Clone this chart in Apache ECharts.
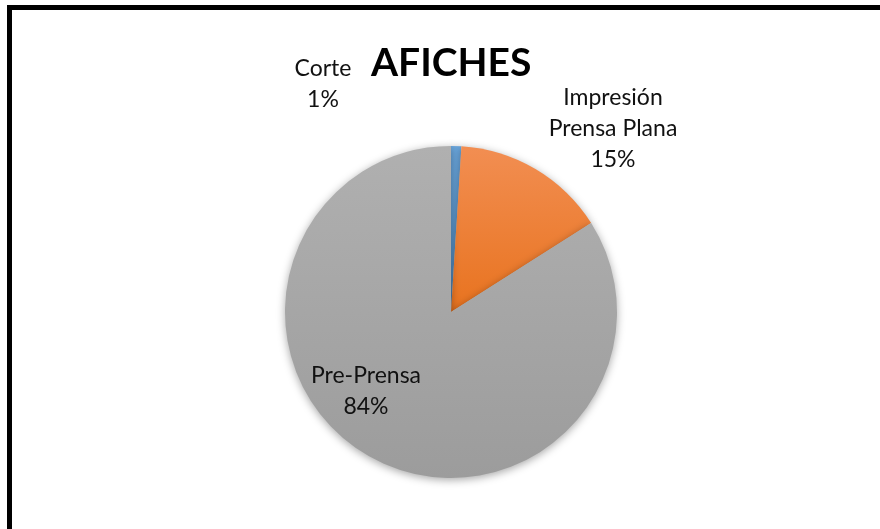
<!DOCTYPE html>
<html>
<head>
<meta charset="utf-8">
<script src="https://cdn.jsdelivr.net/npm/echarts@6/dist/echarts.min.js"></script>
<style>
  html, body { margin: 0; padding: 0; background: #fff; }
  #chart { width: 880px; height: 529px; }
</style>
</head>
<body>
<div id="chart"></div>
<script>
// datos del grafico
var categorias = ['Corte', 'Impresión\nPrensa Plana', 'Pre-Prensa'];
var valores = [1, 15, 84];
var colores = [
    ['#6aa6dc', '#5592cb'],
    ['#f28e52', '#e8731f'],
    ['#b0b0b0', '#9c9c9c']
];
// posicion de cada etiqueta (centro del texto)
var posEtiquetas = [[323, 84], [613, 129], [366, 391]];

var chart = echarts.init(document.getElementById('chart'));

var datos = [];
for (var i = 0; i < valores.length; i++) {
    datos.push({
        name: categorias[i],
        value: valores[i],
        itemStyle: {
            color: new echarts.graphic.LinearGradient(0, 0, 0, 1, [
                {offset: 0, color: colores[i][0]},
                {offset: 1, color: colores[i][1]}
            ])
        }
    });
}

var option = {
    backgroundColor: '#fff',
    title: {
        text: 'AFICHES',
        left: 366,
        top: 39,
        textStyle: {
            fontFamily: 'Lato',
            fontWeight: 'bold',
            fontSize: 39,
            color: '#000'
        }
    },
    graphic: [{
        type: 'rect',
        shape: {x: 9.5, y: 7.5, width: 900, height: 600},
        style: {fill: 'none', stroke: '#000', lineWidth: 5},
        silent: true
    }],
    series: [{
        type: 'pie',
        center: [451, 312],
        radius: 166,
        startAngle: 90,
        clockwise: true,
        animation: false,
        itemStyle: {
            shadowBlur: 8,
            shadowColor: 'rgba(0,0,0,0.35)',
            shadowOffsetY: 2
        },
        label: {
            show: true,
            position: 'outside',
            formatter: function (p) { return p.name + '\n' + Math.round(p.percent) + '%'; },
            fontFamily: 'Lato',
            fontSize: 23,
            lineHeight: 31,
            color: '#111',
            align: 'center'
        },
        labelLine: {show: false},
        labelLayout: function (params) {
            var pos = posEtiquetas[params.dataIndex];
            return {
                x: pos[0],
                y: pos[1],
                align: 'center',
                verticalAlign: 'middle'
            };
        },
        data: datos
    }]
};

chart.setOption(option);
</script>
</body>
</html>
